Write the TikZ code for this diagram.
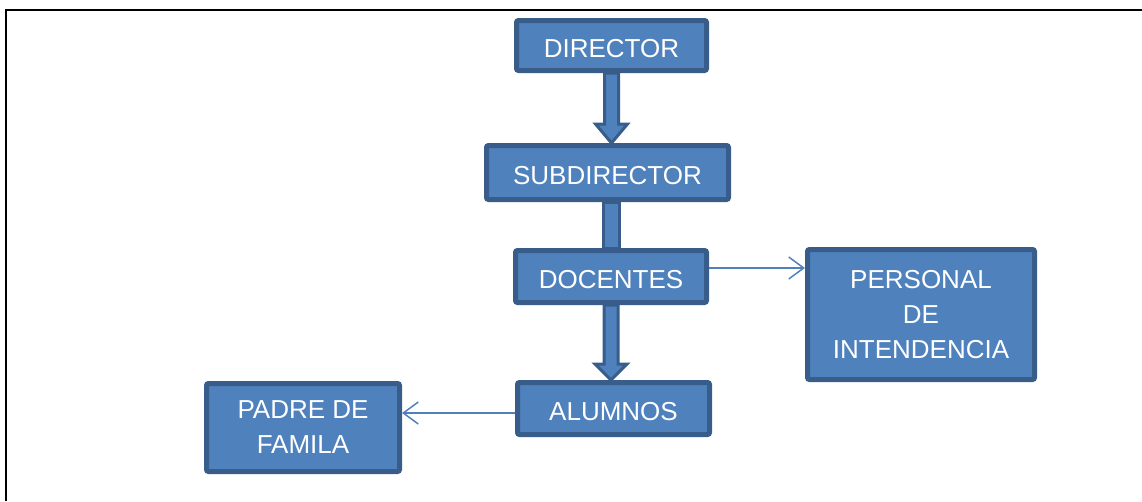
\documentclass[tikz,border=0pt]{standalone}
\usepackage{fontspec}
\setmainfont{Liberation Sans}
\usetikzlibrary{calc, arrows.meta, backgrounds}
\definecolor{cajaazul}{HTML}{4F81BD}
\definecolor{bordeazul}{HTML}{385D8A}

\begin{document}
\begin{tikzpicture}[x=1pt, y=-1pt,
		caja/.style={draw=bordeazul, fill=cajaazul, line width=5pt, rounded corners=2pt,
			text=white, font=\fontsize{26}{35}\selectfont, align=center, inner sep=0pt},
		linea/.style={caja, text height=24pt, text depth=0pt},
		flecha/.style={draw=cajaazul, line width=1.5pt, -{Straight Barb[length=15pt, width=22pt]}},
		bloque/.style={draw=bordeazul, fill=cajaazul, line width=3pt, line join=miter}]
		\useasboundingbox (0, 0) rectangle (1142, 501);
		\draw[line width=2pt] (6, 501) -- (6, 10) -- (1142, 10);

		\node[linea, minimum width=190, minimum height=50] (dir) at (611.5, 45.5) {DIRECTOR};
		\node[linea, minimum width=242, minimum height=54] (sub) at (607.5, 172.5) {SUBDIRECTOR};
		\node[linea, minimum width=191, minimum height=52] (doc) at (611, 276.5) {DOCENTES};
		\node[linea, minimum width=192, minimum height=52] (alu) at (613.5, 408.5) {ALUMNOS};
		\node[caja, minimum width=227, minimum height=130] (per) at (921, 314.5) {PERSONAL\\DE\\INTENDENCIA};
		\node[caja, minimum width=193, minimum height=88] (pad) at (303, 427.5) {PADRE DE\\FAMILA};

		\begin{pgfonlayer}{background}
			% flechas gruesas
			\draw[bloque] let \p1=(dir.south), \p2=(sub.north) in
				(\x1-7pt, \y1) -- (\x1-7pt, \y2+19pt) -- (\x1-16pt, \y2+19pt) -- (\x1, \y2)
				-- (\x1+16pt, \y2+19pt) -- (\x1+7pt, \y2+19pt) -- (\x1+7pt, \y1) -- cycle;
			\draw[bloque] let \p1=(sub.south), \p2=(doc.north) in
				(\x2-8pt, \y1) rectangle (\x2+8pt, \y2);
			\draw[bloque] let \p1=(doc.south), \p2=(alu.north) in
				(\x1-7pt, \y1) -- (\x1-7pt, \y2+16pt) -- (\x1-16pt, \y2+16pt) -- (\x1, \y2)
				-- (\x1+16pt, \y2+16pt) -- (\x1+7pt, \y2+16pt) -- (\x1+7pt, \y1) -- cycle;
		\end{pgfonlayer}

		\draw[flecha] ([yshift=8.5pt]doc.east) -- ([yshift=8.5pt]doc.east -| per.west);
		\draw[flecha] ([yshift=-4.5pt]alu.west) -- ([yshift=-4.5pt]alu.west -| pad.east);
	\end{tikzpicture}
\end{document}
